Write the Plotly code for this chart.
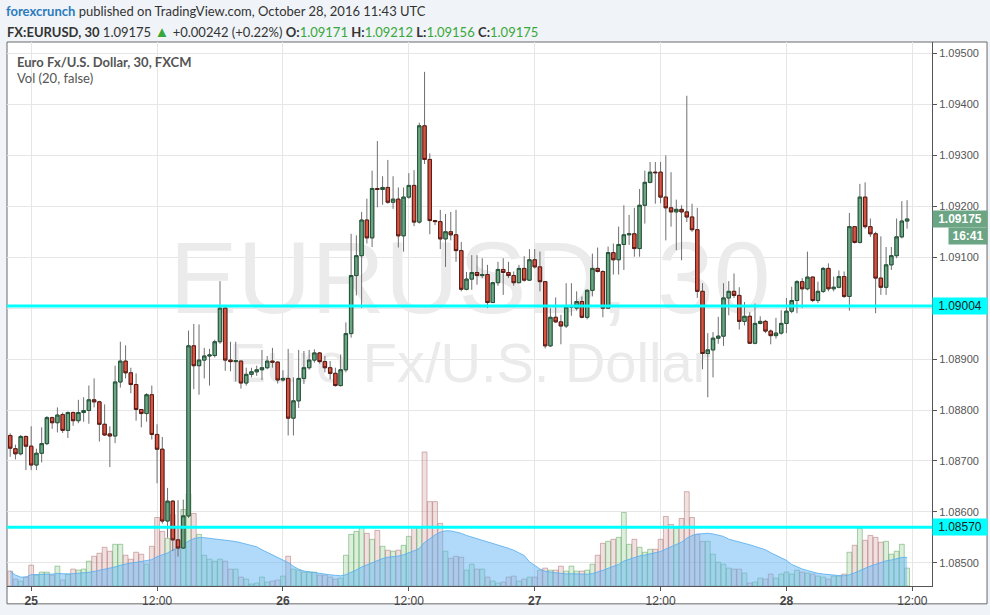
import pandas as pd
import plotly.graph_objects as go

# ---------------- data (EUR/USD, 30-minute bars, FXCM) ----------------
bar_start = "2016-10-24 22:00"
n_bars = 172
times = pd.date_range(bar_start, periods=n_bars, freq="30min")

opens = [
    1.08750, 1.08724, 1.08714, 1.08748, 1.08729, 1.08692, 1.08715, 1.08734, 1.08785, 1.08775,
    1.08791, 1.08760, 1.08795, 1.08779, 1.08795, 1.08799, 1.08820, 1.08816, 1.08772, 1.08753,
    1.08749, 1.08855, 1.08896, 1.08873, 1.08850, 1.08801, 1.08793, 1.08830, 1.08752, 1.08723,
    1.08582, 1.08621, 1.08545, 1.08529, 1.08592, 1.08926, 1.08887, 1.08898, 1.08906, 1.08907,
    1.08934, 1.09000, 1.08898, 1.08895, 1.08896, 1.08853, 1.08870, 1.08875, 1.08879, 1.08883,
    1.08896, 1.08894, 1.08859, 1.08862, 1.08784, 1.08818, 1.08862, 1.08883, 1.08898, 1.08912,
    1.08895, 1.08883, 1.08872, 1.08848, 1.08879, 1.08950, 1.09064, 1.09103, 1.09173, 1.09138,
    1.09235, 1.09233, 1.09237, 1.09208, 1.09214, 1.09142, 1.09218, 1.09241, 1.09169, 1.09358,
    1.09292, 1.09172, 1.09170, 1.09136, 1.09150, 1.09144, 1.09113, 1.09037, 1.09057, 1.09070,
    1.09064, 1.09066, 1.09011, 1.09050, 1.09076, 1.09070, 1.09064, 1.09050, 1.09078, 1.09055,
    1.09095, 1.09081, 1.09052, 1.08926, 1.08982, 1.08973, 1.08965, 1.09002, 1.09000, 1.09013,
    1.08982, 1.09035, 1.09078, 1.09072, 1.09000, 1.09109, 1.09095, 1.09125, 1.09144, 1.09146,
    1.09117, 1.09202, 1.09247, 1.09267, 1.09267, 1.09218, 1.09197, 1.09189, 1.09194, 1.09189,
    1.09179, 1.09154, 1.09033, 1.08911, 1.08918, 1.08941, 1.08945, 1.09020, 1.09033, 1.09025,
    1.08974, 1.08984, 1.08931, 1.08970, 1.08974, 1.08955, 1.08946, 1.08951, 1.08970, 1.08994,
    1.09015, 1.09052, 1.09038, 1.09061, 1.09015, 1.09033, 1.09078, 1.09038, 1.09041, 1.09062,
    1.09023, 1.09160, 1.09129, 1.09218, 1.09160, 1.09146, 1.09059, 1.09041, 1.09085, 1.09103,
    1.09140, 1.09171,
]
highs = [
    1.08754, 1.08732, 1.08751, 1.08750, 1.08768, 1.08724, 1.08766, 1.08788, 1.08787, 1.08805,
    1.08795, 1.08797, 1.08797, 1.08820, 1.08825, 1.08848, 1.08862, 1.08818, 1.08811, 1.08768,
    1.08887, 1.08934, 1.08927, 1.08883, 1.08872, 1.08802, 1.08833, 1.08848, 1.08772, 1.08747,
    1.08647, 1.08623, 1.08623, 1.08624, 1.08956, 1.08969, 1.08968, 1.08922, 1.08920, 1.08938,
    1.09053, 1.09001, 1.08934, 1.08934, 1.08897, 1.08883, 1.08883, 1.08887, 1.08918, 1.08906,
    1.08922, 1.08896, 1.08878, 1.08920, 1.08864, 1.08918, 1.08916, 1.08918, 1.08919, 1.08914,
    1.08906, 1.08896, 1.08883, 1.08909, 1.08972, 1.09146, 1.09143, 1.09189, 1.09215, 1.09270,
    1.09328, 1.09259, 1.09291, 1.09259, 1.09237, 1.09237, 1.09265, 1.09271, 1.09364, 1.09464,
    1.09304, 1.09173, 1.09193, 1.09185, 1.09189, 1.09193, 1.09130, 1.09071, 1.09104, 1.09104,
    1.09098, 1.09085, 1.09052, 1.09091, 1.09098, 1.09091, 1.09072, 1.09085, 1.09102, 1.09116,
    1.09116, 1.09111, 1.09053, 1.09000, 1.09021, 1.08987, 1.09049, 1.09049, 1.09033, 1.09023,
    1.09037, 1.09107, 1.09119, 1.09074, 1.09121, 1.09127, 1.09160, 1.09202, 1.09183, 1.09197,
    1.09234, 1.09270, 1.09287, 1.09287, 1.09287, 1.09300, 1.09267, 1.09213, 1.09202, 1.09417,
    1.09205, 1.09197, 1.09049, 1.08951, 1.08953, 1.08983, 1.09049, 1.09053, 1.09068, 1.09041,
    1.09012, 1.08992, 1.09009, 1.08984, 1.08977, 1.08958, 1.08981, 1.08996, 1.09020, 1.09042,
    1.09055, 1.09059, 1.09111, 1.09062, 1.09052, 1.09081, 1.09088, 1.09062, 1.09074, 1.09072,
    1.09187, 1.09161, 1.09244, 1.09247, 1.09176, 1.09150, 1.09141, 1.09120, 1.09120, 1.09176,
    1.09210, 1.09212,
]
lows = [
    1.08708, 1.08703, 1.08711, 1.08682, 1.08682, 1.08682, 1.08697, 1.08731, 1.08763, 1.08756,
    1.08755, 1.08745, 1.08769, 1.08774, 1.08777, 1.08773, 1.08805, 1.08738, 1.08749, 1.08688,
    1.08735, 1.08844, 1.08862, 1.08833, 1.08779, 1.08766, 1.08777, 1.08742, 1.08656, 1.08577,
    1.08549, 1.08523, 1.08512, 1.08527, 1.08588, 1.08841, 1.08830, 1.08862, 1.08848, 1.08903,
    1.08930, 1.08877, 1.08876, 1.08856, 1.08842, 1.08848, 1.08864, 1.08867, 1.08859, 1.08880,
    1.08883, 1.08852, 1.08856, 1.08750, 1.08750, 1.08804, 1.08851, 1.08879, 1.08893, 1.08891,
    1.08874, 1.08860, 1.08846, 1.08846, 1.08874, 1.08942, 1.09025, 1.09000, 1.09127, 1.09120,
    1.09198, 1.09203, 1.09205, 1.09195, 1.09119, 1.09111, 1.09215, 1.09161, 1.09166, 1.09283,
    1.09145, 1.09163, 1.09116, 1.09081, 1.09133, 1.09091, 1.09033, 1.09035, 1.09036, 1.09046,
    1.09059, 1.09000, 1.09010, 1.09044, 1.09026, 1.09059, 1.09044, 1.09049, 1.09052, 1.09054,
    1.09078, 1.09033, 1.08921, 1.08924, 1.08971, 1.08929, 1.08961, 1.08985, 1.08995, 1.08980,
    1.08978, 1.09023, 1.09070, 1.08982, 1.08998, 1.09066, 1.09066, 1.09075, 1.09124, 1.09101,
    1.09101, 1.09166, 1.09245, 1.09205, 1.09206, 1.09133, 1.09160, 1.09114, 1.09094, 1.09169,
    1.09150, 1.09020, 1.08880, 1.08825, 1.08864, 1.08930, 1.08926, 1.08986, 1.09020, 1.08958,
    1.08966, 1.08930, 1.08929, 1.08968, 1.08951, 1.08929, 1.08940, 1.08948, 1.08951, 1.08990,
    1.08990, 1.09000, 1.09035, 1.09012, 1.09010, 1.09030, 1.09033, 1.09033, 1.09039, 1.09020,
    1.08995, 1.09127, 1.09127, 1.09156, 1.09140, 1.08990, 1.09026, 1.09026, 1.09075, 1.09098,
    1.09137, 1.09156,
]
closes = [
    1.08725, 1.08714, 1.08748, 1.08729, 1.08692, 1.08715, 1.08734, 1.08785, 1.08775, 1.08790,
    1.08760, 1.08795, 1.08779, 1.08795, 1.08799, 1.08820, 1.08816, 1.08772, 1.08751, 1.08749,
    1.08855, 1.08896, 1.08873, 1.08850, 1.08801, 1.08793, 1.08830, 1.08752, 1.08723, 1.08582,
    1.08621, 1.08545, 1.08529, 1.08592, 1.08926, 1.08887, 1.08898, 1.08906, 1.08908, 1.08934,
    1.09000, 1.08898, 1.08895, 1.08897, 1.08853, 1.08870, 1.08875, 1.08879, 1.08883, 1.08896,
    1.08894, 1.08859, 1.08862, 1.08784, 1.08818, 1.08862, 1.08883, 1.08898, 1.08912, 1.08895,
    1.08883, 1.08872, 1.08848, 1.08879, 1.08950, 1.09064, 1.09103, 1.09173, 1.09138, 1.09235,
    1.09233, 1.09237, 1.09208, 1.09214, 1.09142, 1.09218, 1.09241, 1.09169, 1.09358, 1.09292,
    1.09172, 1.09170, 1.09136, 1.09150, 1.09144, 1.09113, 1.09037, 1.09057, 1.09070, 1.09064,
    1.09066, 1.09011, 1.09050, 1.09076, 1.09070, 1.09064, 1.09050, 1.09078, 1.09055, 1.09095,
    1.09081, 1.09052, 1.08926, 1.08982, 1.08973, 1.08965, 1.09002, 1.09005, 1.09013, 1.08982,
    1.09035, 1.09078, 1.09072, 1.09000, 1.09109, 1.09095, 1.09125, 1.09144, 1.09146, 1.09117,
    1.09202, 1.09247, 1.09267, 1.09266, 1.09218, 1.09197, 1.09189, 1.09194, 1.09189, 1.09179,
    1.09154, 1.09033, 1.08911, 1.08918, 1.08941, 1.08945, 1.09020, 1.09033, 1.09025, 1.08974,
    1.08984, 1.08931, 1.08970, 1.08974, 1.08955, 1.08946, 1.08951, 1.08970, 1.08994, 1.09015,
    1.09052, 1.09038, 1.09061, 1.09015, 1.09033, 1.09078, 1.09038, 1.09041, 1.09062, 1.09023,
    1.09160, 1.09129, 1.09218, 1.09160, 1.09146, 1.09059, 1.09041, 1.09085, 1.09103, 1.09140,
    1.09171, 1.09175,
]
volumes = [
    15, 7, 5, 9, 21, 11, 14, 14, 11, 20, 6, 12, 17, 16, 17, 25, 30, 33, 39, 35,
    42, 42, 31, 27, 34, 32, 22, 40, 69, 55, 48, 72, 60, 77, 93, 73, 52, 31, 27, 25,
    27, 25, 17, 17, 9, 7, 2, 3, 9, 4, 5, 6, 10, 30, 17, 16, 14, 14, 14, 11,
    11, 9, 7, 8, 31, 52, 55, 59, 53, 47, 56, 40, 36, 35, 36, 41, 50, 59, 59, 135,
    85, 85, 63, 35, 28, 30, 29, 16, 22, 17, 17, 9, 5, 3, 4, 9, 10, 5, 7, 9,
    9, 16, 18, 16, 16, 20, 15, 20, 15, 15, 16, 22, 31, 43, 45, 47, 49, 74, 42, 47,
    39, 34, 37, 37, 47, 70, 62, 58, 68, 95, 69, 52, 45, 45, 32, 24, 22, 18, 17, 17,
    13, 3, 4, 8, 7, 12, 8, 12, 14, 12, 16, 14, 13, 12, 10, 9, 7, 10, 10, 12,
    34, 41, 58, 46, 51, 49, 44, 45, 32, 35, 42, 18,
]
vol_ma_length = 20
level_lines = [1.09004, 1.08570]
price_ticks = [1.085, 1.086, 1.087, 1.088, 1.089, 1.090, 1.091, 1.092, 1.093, 1.094, 1.095]
time_ticks = ["2016-10-25 00:00", "2016-10-25 12:00", "2016-10-26 00:00", "2016-10-26 12:00",
              "2016-10-27 00:00", "2016-10-27 12:00", "2016-10-28 00:00", "2016-10-28 12:00"]
time_tick_text = ["<b>25</b>", "12:00", "<b>26</b>", "12:00", "<b>27</b>", "12:00", "<b>28</b>", "12:00"]
last_price = 1.09175
countdown = "16:41"

# ---------------- derived ----------------
vol_ma = pd.Series(volumes).rolling(vol_ma_length, min_periods=1).mean()
is_up = [c > o for o, c in zip(opens, closes)]
body_top = [max(o, c) for o, c in zip(opens, closes)]
body_bot = [min(o, c) for o, c in zip(opens, closes)]

GREEN = "#6ba583"
GREEN_EDGE = "#225437"
RED = "#d75442"
RED_EDGE = "#5b1a13"
WICK = "#6f6f71"
GRID = "#e6e6e6"
AXIS = "#555555"

fig = go.Figure()

# watermark (base subplot, drawn below everything)
fig.add_trace(go.Scatter(
    x=["2016-10-26 17:50", "2016-10-26 17:50"], y=[0.548, 0.400],
    mode="text", text=["EURUSD, 30", "Euro Fx/U.S. Dollar"],
    textfont=dict(family="Liberation Sans, Arial, sans-serif", size=[102, 56], color="#ebebeb"),
    hoverinfo="skip", showlegend=False, yaxis="y",
))

# volume
fig.add_trace(go.Bar(
    x=times, y=volumes, yaxis="y2",
    width=30 * 60 * 1000 * 0.92,
    marker=dict(
        color=["rgba(110,185,110,0.24)" if u else "rgba(195,125,125,0.24)" for u in is_up],
        line=dict(color=["rgba(100,170,100,0.55)" if u else "rgba(180,120,120,0.55)" for u in is_up], width=1),
    ),
    hoverinfo="skip", showlegend=False,
))
fig.add_trace(go.Scatter(
    x=times, y=vol_ma, yaxis="y2", mode="lines", fill="tozeroy",
    line=dict(color="rgba(90,175,240,0.85)", width=1),
    fillcolor="rgba(100,181,246,0.5)",
    hoverinfo="skip", showlegend=False,
))

# candle wicks
fig.add_trace(go.Candlestick(
    x=times, open=opens, high=highs, low=lows, close=closes, yaxis="y3",
    increasing=dict(line=dict(color=WICK, width=1), fillcolor=WICK),
    decreasing=dict(line=dict(color=WICK, width=1), fillcolor=WICK),
    whiskerwidth=0, hoverinfo="skip", showlegend=False,
))
# candle bodies
fig.add_trace(go.Candlestick(
    x=times, open=opens, high=body_top, low=body_bot, close=closes, yaxis="y3",
    increasing=dict(line=dict(color=GREEN_EDGE, width=1), fillcolor=GREEN),
    decreasing=dict(line=dict(color=RED_EDGE, width=1), fillcolor=RED),
    whiskerwidth=0, hoverinfo="skip", showlegend=False,
))

shapes = [
    # chart panel
    dict(type="rect", xref="paper", yref="paper", x0=0, x1=1.0595, y0=-0.0328, y1=1.0,
         fillcolor="white", line=dict(color="#6a6a6a", width=1), layer="below"),
]
for lv in level_lines:
    shapes.append(dict(type="line", xref="paper", yref="y3", x0=0, x1=1, y0=lv, y1=lv,
                       line=dict(color="#00ffff", width=3), layer="above"))

GREENTXT = "#38a83a"
hdr_font = "Lato, 'Open Sans', sans-serif"
annotations = [
    dict(xref="paper", yref="paper", x=-0.0035, y=1.0566, xanchor="left", yanchor="middle",
         showarrow=False, align="left",
         font=dict(family=hdr_font, size=13, color="#333333"),
         text='<span style="color:#2b7bbd"><b>forexcrunch</b></span> published on TradingView.com, October 28, 2016 11:43 UTC'),
    dict(xref="paper", yref="paper", x=-0.0025, y=1.0201, xanchor="left", yanchor="middle",
         showarrow=False, align="left",
         font=dict(family=hdr_font, size=13, color="#333333"),
         text=('<b>FX:EURUSD, 30</b> 1.09175 '
               f'<span style="color:{GREENTXT};font-size:15px">\u25b2</span> +0.00242 (+0.22%) '
               f'<b>O:</b><span style="color:{GREENTXT}">1.09171</span> '
               f'<b>H:</b><span style="color:{GREENTXT}">1.09212</span> '
               f'<b>L:</b><span style="color:{GREENTXT}">1.09156</span> '
               f'<b>C:</b><span style="color:{GREENTXT}">1.09175</span>')),
    dict(xref="paper", yref="paper", x=0.0087, y=0.9635, xanchor="left", yanchor="middle",
         showarrow=False, font=dict(family=hdr_font, size=13, color="#555555"),
         text="<b>Euro Fx/U.S. Dollar, 30, FXCM</b>"),
    dict(xref="paper", yref="paper", x=0.0087, y=0.9343, xanchor="left", yanchor="middle",
         showarrow=False, font=dict(family=hdr_font, size=13, color="#555555"),
         text="Vol (20, false)"),
    # price labels on the axis
    dict(xref="paper", yref="y3", x=1.0, y=last_price, xanchor="left", yanchor="middle",
         showarrow=False, bgcolor=GREEN, width=52, height=14, borderpad=1, align="center",
         font=dict(family="Liberation Sans, Arial, sans-serif", size=12, color="white"),
         text=f"<b>{last_price:.5f}</b>"),
    dict(xref="paper", yref="paper", x=1.0173, y=0.6432, xanchor="left", yanchor="middle",
         showarrow=False, bgcolor=GREEN, width=36, height=14, borderpad=1, align="center",
         font=dict(family="Liberation Sans, Arial, sans-serif", size=12, color="white"),
         text=f"<b>{countdown}</b>"),
]
for lv in level_lines:
    annotations.append(dict(xref="paper", yref="y3", x=1.0, y=lv, xanchor="left", yanchor="middle",
                            showarrow=False, bgcolor="#00ffff", width=52, height=14, borderpad=1,
                            align="center",
                            font=dict(family="Liberation Sans, Arial, sans-serif", size=12, color="#222222"),
                            text=f"{lv:.5f}"))

# the 1.09000 tick label is hidden behind the 1.09004 level box in the reference
price_tick_text = ["" if abs(v - 1.090) < 1e-9 else f"{v:.5f}" for v in price_ticks]

fig.update_layout(
    width=990, height=615,
    margin=dict(l=7, r=58, t=42, b=25),
    paper_bgcolor="#f0f3f7",
    plot_bgcolor="white",
    showlegend=False,
    hovermode=False,
    bargap=0,
    boxgap=0.3,
    boxgroupgap=0.08,
    xaxis=dict(
        type="date",
        range=["2016-10-24 21:41:42", "2016-10-28 13:52:30"],
        tickvals=time_ticks, ticktext=time_tick_text,
        showgrid=True, gridcolor=GRID, gridwidth=1,
        showline=True, linecolor=AXIS, linewidth=1,
        ticks="outside", ticklen=4, tickcolor=AXIS,
        tickfont=dict(family="Liberation Sans Narrow, Arial Narrow, sans-serif", size=12, color="#444444"),
        rangeslider=dict(visible=False), fixedrange=True,
    ),
    yaxis=dict(range=[0, 1], visible=False, fixedrange=True),
    yaxis2=dict(overlaying="y", range=[0, 548], visible=False, fixedrange=True),
    yaxis3=dict(
        overlaying="y", side="right",
        range=[1.084544, 1.095226],
        tickvals=price_ticks, ticktext=price_tick_text,
        showgrid=True, gridcolor=GRID, gridwidth=1, zeroline=False,
        showline=True, linecolor=AXIS, linewidth=1,
        ticks="outside", ticklen=4, tickcolor=AXIS,
        tickfont=dict(family="Liberation Sans, Arial, sans-serif", size=11, color="#555555"),
        fixedrange=True,
    ),
    shapes=shapes,
    annotations=annotations,
)

fig.write_html(
    "out.html",
    config={"displayModeBar": False, "staticPlot": True},
    post_script="document.body.style.margin='0';document.body.style.padding='0';",
)
